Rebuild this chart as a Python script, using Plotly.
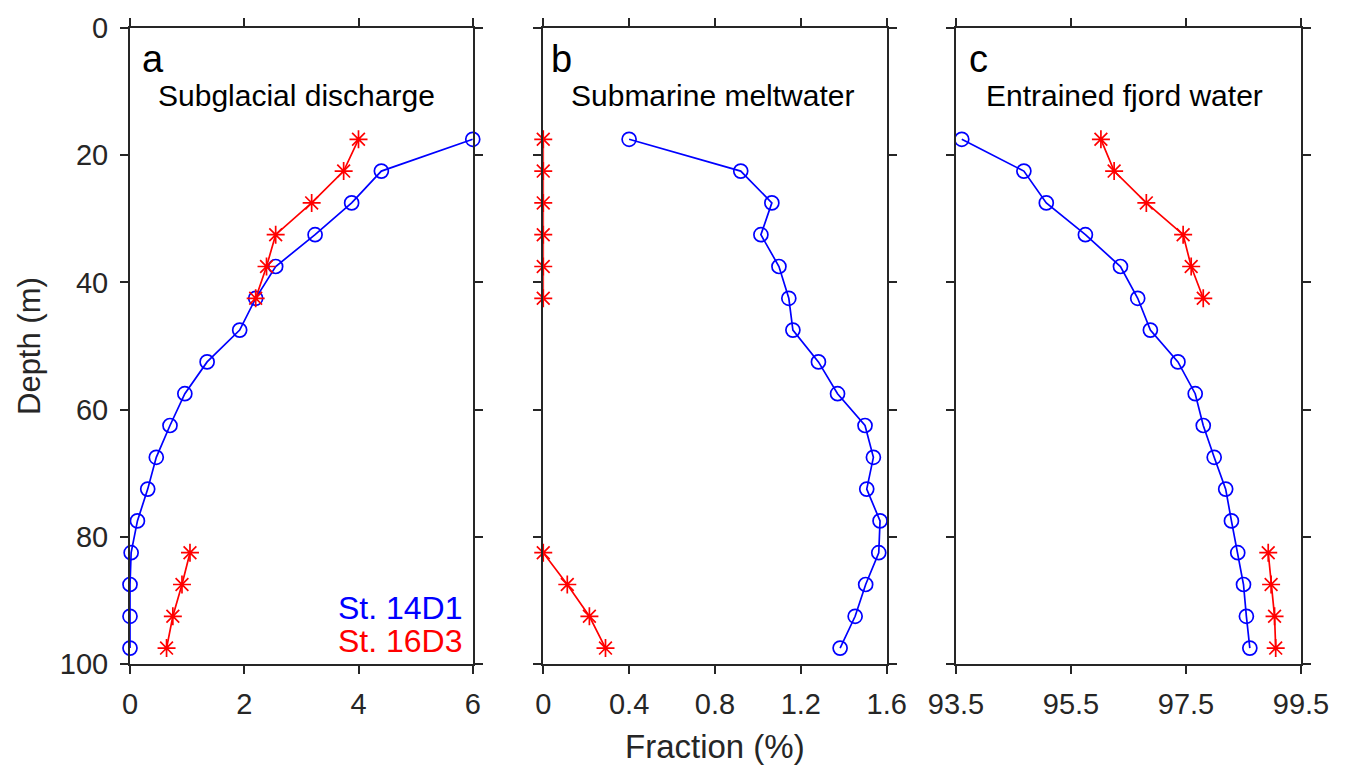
import plotly.graph_objects as go

# ---- data ----
depth = [17.5, 22.5, 27.5, 32.5, 37.5, 42.5, 47.5, 52.5, 57.5, 62.5,
         67.5, 72.5, 77.5, 82.5, 87.5, 92.5, 97.5]
depth_16d3 = [17.5, 22.5, 27.5, 32.5, 37.5, 42.5, None, 82.5, 87.5, 92.5, 97.5]

sg_14d1 = [6.0, 4.40, 3.88, 3.24, 2.55, 2.20, 1.92, 1.35, 0.96, 0.70,
           0.46, 0.31, 0.13, 0.02, 0.0, 0.0, 0.0]
sg_16d3 = [4.0, 3.74, 3.18, 2.55, 2.39, 2.20, None, 1.05, 0.91, 0.75, 0.64]

sm_14d1 = [0.40, 0.92, 1.065, 1.014, 1.098, 1.144, 1.163, 1.282, 1.371, 1.499,
           1.538, 1.507, 1.569, 1.563, 1.502, 1.453, 1.383]
sm_16d3 = [0.0, 0.0, 0.0, 0.0, 0.0, 0.0, None, 0.0, 0.112, 0.215, 0.29]

fw_14d1 = [93.60, 94.68, 95.07, 95.75, 96.36, 96.66, 96.88, 97.36, 97.66, 97.80,
           97.99, 98.19, 98.29, 98.40, 98.50, 98.55, 98.61]
fw_16d3 = [96.02, 96.25, 96.81, 97.45, 97.59, 97.80, None, 98.93, 98.98, 99.04, 99.06]

panel_letters = ["a", "b", "c"]
panel_titles = ["Subglacial discharge", "Submarine meltwater", "Entrained fjord water"]
x_ranges = [[0, 6], [0, 1.6], [93.5, 99.5]]
x_tickvals = [[0, 2, 4, 6], [0, 0.4, 0.8, 1.2, 1.6], [93.5, 95.5, 97.5, 99.5]]
x_ticktext = [["0", "2", "4", "6"], ["0", "0.4", "0.8", "1.2", "1.6"],
              ["93.5", "95.5", "97.5", "99.5"]]
y_tickvals = [0, 20, 40, 60, 80, 100]
legend_labels = ["St. 14D1", "St. 16D3"]

BLUE = "#0000ff"
RED = "#ff0000"
AX = "#262626"
FONT = "Liberation Sans, Arial, sans-serif"

fig = go.Figure()

series = [(sg_14d1, sg_16d3), (sm_14d1, sm_16d3), (fw_14d1, fw_16d3)]
for i, (b, r) in enumerate(series):
    xa = "x" if i == 0 else f"x{i+1}"
    ya = "y" if i == 0 else f"y{i+1}"
    fig.add_trace(go.Scatter(
        x=b, y=depth, xaxis=xa, yaxis=ya, mode="lines+markers",
        line=dict(color=BLUE, width=1.7),
        marker=dict(symbol="circle-open", size=14, color=BLUE, line=dict(width=1.7)),
        cliponaxis=False, showlegend=False))
    fig.add_trace(go.Scatter(
        x=r, y=depth_16d3, xaxis=xa, yaxis=ya, mode="lines+markers",
        line=dict(color=RED, width=1.7),
        marker=dict(symbol="asterisk-open", size=15, color=RED, line=dict(width=1.7, color=RED)),
        cliponaxis=False, showlegend=False))

domains = [[0.0, 0.2927], [0.3529, 0.6462], [0.7054, 1.0]]
PH = 645.5  # plot height in px
layout = dict(
    width=1350, height=774,
    margin=dict(l=130, r=49, t=19.5, b=109.5),
    paper_bgcolor="white", plot_bgcolor="white",
    font=dict(family=FONT, size=29, color=AX),
)
for i in range(3):
    sx = "" if i == 0 else str(i + 1)
    layout[f"xaxis{sx}"] = dict(
        domain=domains[i], range=x_ranges[i], anchor=f"y{sx}",
        tickvals=x_tickvals[i], ticktext=x_ticktext[i],
        showline=True, linecolor=AX, linewidth=2, mirror="ticks",
        ticks="outside", ticklen=8, tickwidth=2, tickcolor=AX,
        showgrid=False, zeroline=False, ticklabelstandoff=5,
        tickfont=dict(family=FONT, size=29, color=AX),
    )
    layout[f"yaxis{sx}"] = dict(
        domain=[0, 1], range=[100, 0], anchor=f"x{sx}",
        tickvals=y_tickvals, showticklabels=(i == 0),
        showline=True, linecolor=AX, linewidth=2, mirror="ticks",
        ticks="outside", ticklen=8, tickwidth=2, tickcolor=AX,
        showgrid=False, zeroline=False, ticklabelstandoff=6,
        tickfont=dict(family=FONT, size=29, color=AX),
    )
fig.update_layout(**layout)

letter_off = [10, 6, 11]
title_off = [26, 26, 28]
widths = [343, 343, 345]
annotations = []
for i in range(3):
    sx = "" if i == 0 else str(i + 1)
    annotations.append(dict(
        text=panel_letters[i], xref=f"x{sx} domain", yref=f"y{sx} domain",
        x=letter_off[i] / widths[i], y=1 - 31 / PH, xanchor="left", yanchor="middle",
        showarrow=False, font=dict(family=FONT, size=38, color="#000000")))
    annotations.append(dict(
        text=panel_titles[i], xref=f"x{sx} domain", yref=f"y{sx} domain",
        x=title_off[i] / widths[i], y=1 - 68.5 / PH, xanchor="left", yanchor="middle",
        showarrow=False, font=dict(family=FONT, size=30, color="#000000")))

annotations.append(dict(
    text=legend_labels[0], xref="x domain", yref="y domain",
    x=1 - 8 / 343, y=57 / PH, xanchor="right", yanchor="middle",
    showarrow=False, font=dict(family=FONT, size=32, color=BLUE)))
annotations.append(dict(
    text=legend_labels[1], xref="x domain", yref="y domain",
    x=1 - 8 / 343, y=23 / PH, xanchor="right", yanchor="middle",
    showarrow=False, font=dict(family=FONT, size=32, color=RED)))

annotations.append(dict(
    text="Fraction (%)", xref="paper", yref="paper",
    x=(715 - 130) / 1171, y=(665 - 749) / PH, xanchor="center", yanchor="middle",
    showarrow=False, font=dict(family=FONT, size=33, color=AX)))
annotations.append(dict(
    text="Depth (m)", xref="paper", yref="paper", textangle=-90,
    x=(29 - 130) / 1171, y=0.5, xanchor="center", yanchor="middle",
    showarrow=False, font=dict(family=FONT, size=31, color=AX)))

fig.update_layout(annotations=annotations)
fig.write_html("out.html", config={"displayModeBar": False},
               post_script="document.body.style.margin='0px';")
